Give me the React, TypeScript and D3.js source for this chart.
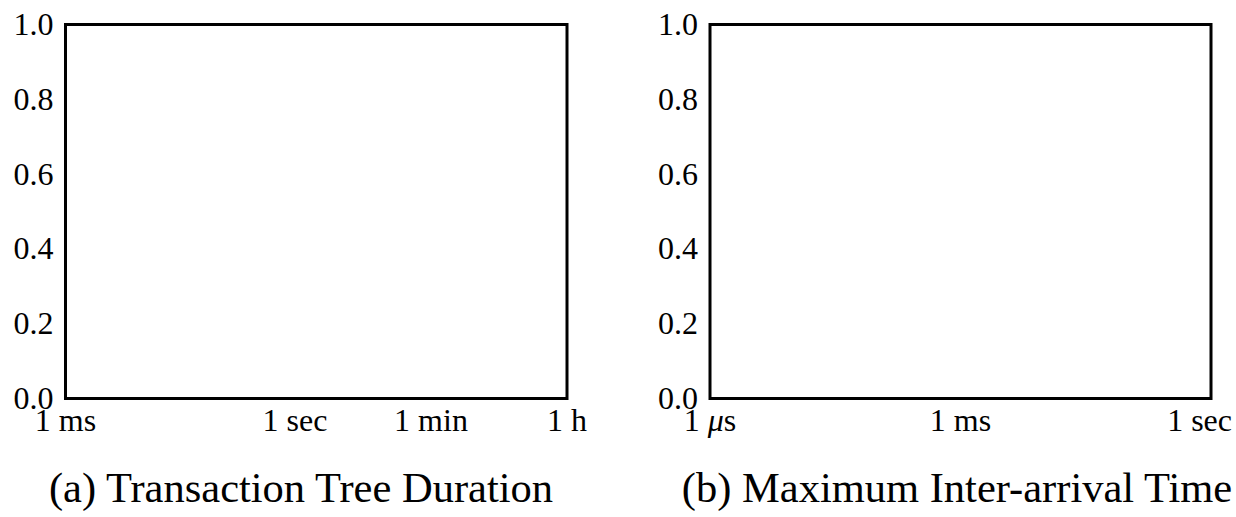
import React from "react";
import * as d3 from "d3";

// ---- data ----
const yTickValues = [0, 0.2, 0.4, 0.6, 0.8, 1.0];
const panelATickValues = [0.001, 1, 60, 3600]; // seconds
const panelATickLabels = ["1 ms", "1 sec", "1 min", "1 h"];
const panelBTickValues = [1e-6, 1e-3, 1]; // seconds
const panelBTickLabels = ["1 μs", "1 ms", "1 sec"];
const captions = ["(a) Transaction Tree Duration", "(b) Maximum Inter-arrival Time"];

// ---- layout ----
const W = 1236;
const H = 517;
const TOP = 24.5;
const BOTTOM = 398.5;
const EDGE = 4;
const FONT = "'Liberation Serif', 'Times New Roman', Times, serif";
const TICK_FONT = 32;

const panels = [
  {
    left: 65.5,
    right: 567,
    domain: [panelATickValues[0], panelATickValues[panelATickValues.length - 1]],
    ticks: panelATickValues,
    labels: panelATickLabels,
    caption: captions[0],
    captionX: 301,
  },
  {
    left: 710,
    right: 1211,
    domain: [panelBTickValues[0], panelBTickValues[panelBTickValues.length - 1]],
    ticks: panelBTickValues,
    labels: panelBTickLabels,
    caption: captions[1],
    captionX: 957,
  },
];

function Label({ text }: { text: string }) {
  if (text.includes("μ")) {
    const [a, b] = text.split("μ");
    return (
      <>
        {a}
        <tspan fontStyle="italic">μ</tspan>
        {b}
      </>
    );
  }
  return <>{text}</>;
}

function Panel({ p }: { p: (typeof panels)[number] }) {
  const x = d3.scaleLog().domain(p.domain).range([p.left, p.right]);
  const y = d3.scaleLinear().domain([0, 1]).range([BOTTOM, TOP]);
  return (
    <g>
      <rect
        x={x(p.domain[0])}
        y={y(1)}
        width={x(p.domain[1]) - x(p.domain[0])}
        height={y(0) - y(1)}
        fill="none"
        stroke="#000"
        strokeWidth={3}
      />
      {yTickValues.map((v) => (
        <text
          key={v}
          x={p.left - 12}
          y={y(v)}
          dy="0.33em"
          textAnchor="end"
          fontSize={TICK_FONT}
          fontFamily={FONT}
          fill="#000"
        >
          {d3.format(".1f")(v)}
        </text>
      ))}
      {p.ticks.map((v, i) => {
        const px = x(v);
        const halfW = 34;
        const clamp = px + halfW > W - EDGE;
        return (
          <text
            key={v}
            x={clamp ? W - EDGE : px}
            y={431}
            textAnchor={clamp ? "end" : "middle"}
            fontSize={TICK_FONT}
            fontFamily={FONT}
            fill="#000"
          >
            <Label text={p.labels[i]} />
          </text>
        );
      })}
      <text
        x={p.captionX}
        y={502}
        textAnchor="middle"
        fontSize={42.5}
        fontFamily={FONT}
        fill="#000"
      >
        {p.caption}
      </text>
    </g>
  );
}

export default function App() {
  return (
    <svg
      width={W}
      height={H}
      viewBox={`0 0 ${W} ${H}`}
      style={{ position: "absolute", left: 0, top: 0, background: "#fff" }}
    >
      <rect x={0} y={0} width={W} height={H} fill="#fff" />
      {panels.map((p, i) => (
        <Panel key={i} p={p} />
      ))}
    </svg>
  );
}
